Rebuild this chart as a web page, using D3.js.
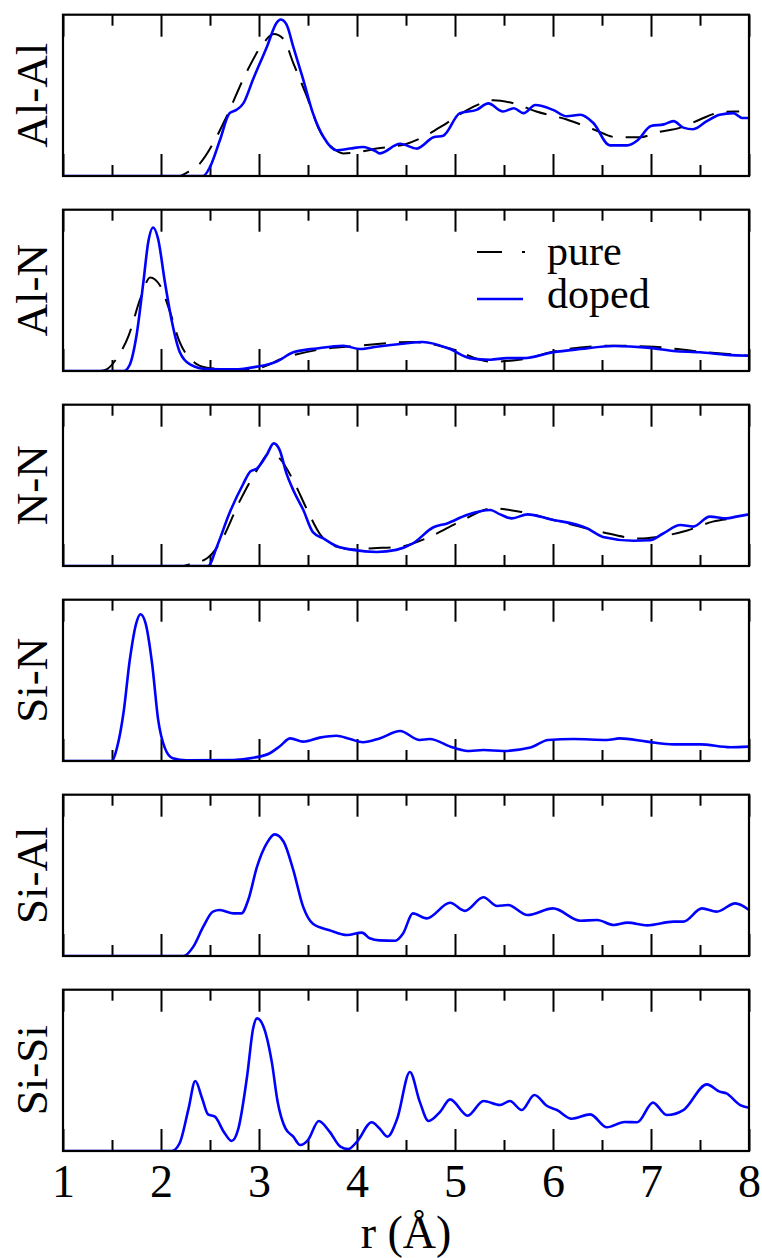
<!DOCTYPE html>
<html>
<head>
    <title>Pair distribution functions</title>
    <script src="https://d3js.org/d3.v7.min.js"></script>
    <style>
        body { margin: 0; background: #fff; }
        svg text { font-family: "Liberation Serif", "Times New Roman", Times, "DejaVu Serif", serif; fill: #000; }
        .frame { fill: none; stroke: #000; stroke-width: 2.2px; }
        .tick line { stroke: #000; stroke-width: 2px; }
        .pure { fill: none; stroke: #000; stroke-width: 2px; stroke-dasharray: 22,13; }
        .doped { fill: none; stroke: #0000ff; stroke-width: 2.6px; }
    </style>
</head>
<body>
    <svg width="762" height="1258"></svg>
    <script>
        // Panel labels, top to bottom
        var pairs = ["Al-Al", "Al-N", "N-N", "Si-N", "Si-Al", "Si-Si"];

        // x tick labels
        var xTicks = [1, 2, 3, 4, 5, 6, 7, 8];

        // Al-Al
        var alAlPureR = [1.0, 2.19, 2.26, 2.40, 2.53, 2.67, 2.87, 3.04, 3.15, 3.25, 3.35, 3.49, 3.62, 3.76, 3.86, 4.03, 4.2, 4.51, 4.67, 4.92, 5.19, 5.39, 5.60, 5.83, 6.14, 6.41, 6.65, 6.89, 7.06, 7.3, 7.5, 7.67, 7.84, 7.9];
        var alAlPure  = [0, 0, 0.02, 0.08, 0.20, 0.37, 0.64, 0.82, 0.88, 0.85, 0.70, 0.49, 0.28, 0.17, 0.14, 0.15, 0.17, 0.20, 0.24, 0.33, 0.43, 0.47, 0.45, 0.40, 0.35, 0.29, 0.24, 0.24, 0.27, 0.30, 0.35, 0.39, 0.40, 0.40];
        var alAlDopedR = [1.0, 2.43, 2.50, 2.60, 2.70, 2.77, 2.84, 2.94, 3.08, 3.18, 3.22, 3.28, 3.35, 3.45, 3.55, 3.66, 3.79, 3.93, 4.06, 4.2, 4.23, 4.44, 4.61, 4.78, 4.88, 5.05, 5.22, 5.34, 5.49, 5.60, 5.70, 5.82, 6.00, 6.14, 6.28, 6.41, 6.58, 6.76, 6.86, 7.00, 7.13, 7.23, 7.33, 7.43, 7.57, 7.70, 7.84, 7.93, 8.0];
        var alAlDoped  = [0, 0, 0.056, 0.22, 0.39, 0.41, 0.45, 0.60, 0.80, 0.95, 0.97, 0.94, 0.80, 0.60, 0.39, 0.24, 0.16, 0.17, 0.18, 0.15, 0.14, 0.20, 0.17, 0.24, 0.25, 0.39, 0.41, 0.45, 0.40, 0.42, 0.39, 0.44, 0.41, 0.37, 0.38, 0.33, 0.19, 0.19, 0.22, 0.31, 0.32, 0.34, 0.30, 0.29, 0.34, 0.38, 0.39, 0.36, 0.36];

        // Al-N
        var alNPureR = [1.0, 1.38, 1.45, 1.55, 1.67, 1.79, 1.89, 1.99, 2.09, 2.19, 2.33, 2.47, 2.74, 2.98, 3.25, 3.59, 4.03, 4.57, 4.95, 5.36, 5.7, 6.0, 6.62, 7.03, 7.5, 8.0];
        var alNPure  = [0, 0, 0.012, 0.08, 0.22, 0.45, 0.58, 0.53, 0.37, 0.18, 0.058, 0.02, 0.01, 0.017, 0.08, 0.13, 0.157, 0.18, 0.14, 0.058, 0.074, 0.12, 0.157, 0.15, 0.12, 0.095];
        var alNDopedR = [1.0, 1.62, 1.68, 1.75, 1.82, 1.87, 1.92, 1.97, 2.04, 2.11, 2.19, 2.30, 2.47, 2.74, 2.98, 3.18, 3.35, 3.59, 3.86, 4.03, 4.2, 4.44, 4.67, 4.95, 5.15, 5.36, 5.53, 5.70, 6.0, 6.28, 6.62, 6.96, 7.23, 7.5, 7.78, 8.0];
        var alNDoped  = [0, 0, 0.037, 0.22, 0.55, 0.80, 0.89, 0.82, 0.55, 0.31, 0.12, 0.04, 0.012, 0.01, 0.027, 0.058, 0.116, 0.14, 0.157, 0.136, 0.15, 0.167, 0.18, 0.136, 0.08, 0.07, 0.08, 0.08, 0.116, 0.136, 0.155, 0.145, 0.124, 0.116, 0.10, 0.095];

        // N-N
        var nNPureR = [1.0, 2.23, 2.30, 2.47, 2.60, 2.81, 2.98, 3.11, 3.21, 3.35, 3.49, 3.62, 3.79, 3.96, 4.17, 4.44, 4.74, 5.05, 5.39, 5.66, 6.07, 6.48, 6.89, 7.06, 7.37, 7.63, 7.84, 7.9];
        var nNPure  = [0, 0, 0.012, 0.048, 0.14, 0.41, 0.595, 0.70, 0.667, 0.53, 0.35, 0.20, 0.12, 0.103, 0.11, 0.12, 0.18, 0.275, 0.357, 0.337, 0.275, 0.213, 0.17, 0.18, 0.22, 0.275, 0.295, 0.30];
        var nNDopedR = [1.0, 2.48, 2.57, 2.70, 2.84, 2.91, 2.98, 3.08, 3.15, 3.21, 3.28, 3.35, 3.45, 3.55, 3.66, 3.79, 3.96, 4.2, 4.40, 4.57, 4.78, 4.92, 5.12, 5.36, 5.46, 5.58, 5.74, 5.97, 6.35, 6.51, 6.82, 6.99, 7.12, 7.30, 7.43, 7.60, 7.77, 7.87, 8.0];
        var nNDoped  = [0, 0, 0.12, 0.33, 0.51, 0.585, 0.605, 0.69, 0.76, 0.72, 0.574, 0.47, 0.35, 0.21, 0.17, 0.124, 0.10, 0.087, 0.10, 0.14, 0.24, 0.264, 0.316, 0.347, 0.32, 0.295, 0.32, 0.29, 0.233, 0.18, 0.157, 0.16, 0.20, 0.254, 0.244, 0.306, 0.295, 0.306, 0.32];

        // Si-N (doped only)
        var siNDopedR = [1.0, 1.50, 1.55, 1.62, 1.68, 1.75, 1.79, 1.84, 1.91, 1.97, 2.04, 2.12, 2.26, 2.74, 2.94, 3.11, 3.21, 3.32, 3.45, 3.62, 3.79, 3.93, 4.06, 4.23, 4.44, 4.64, 4.74, 4.98, 5.15, 5.29, 5.49, 5.77, 5.95, 6.21, 6.55, 6.68, 6.96, 7.23, 7.5, 7.81, 8.0];
        var siNDoped  = [0, 0, 0.08, 0.31, 0.62, 0.86, 0.91, 0.86, 0.60, 0.26, 0.08, 0.017, 0.004, 0.006, 0.02, 0.048, 0.09, 0.14, 0.12, 0.145, 0.157, 0.136, 0.116, 0.14, 0.186, 0.13, 0.136, 0.083, 0.062, 0.068, 0.062, 0.083, 0.13, 0.136, 0.13, 0.14, 0.12, 0.103, 0.103, 0.085, 0.089];

        // Si-Al (doped only)
        var siAlDopedR = [1.0, 2.23, 2.33, 2.43, 2.53, 2.60, 2.74, 2.82, 2.89, 2.98, 3.08, 3.16, 3.25, 3.35, 3.45, 3.55, 3.72, 3.90, 4.05, 4.13, 4.23, 4.39, 4.47, 4.57, 4.71, 4.95, 5.10, 5.29, 5.43, 5.54, 5.74, 6.0, 6.28, 6.45, 6.62, 6.76, 6.96, 7.23, 7.33, 7.52, 7.67, 7.86, 8.0];
        var siAlDoped  = [0, 0, 0.058, 0.18, 0.275, 0.285, 0.264, 0.264, 0.347, 0.554, 0.70, 0.754, 0.71, 0.533, 0.306, 0.20, 0.16, 0.13, 0.145, 0.11, 0.097, 0.095, 0.14, 0.264, 0.233, 0.33, 0.28, 0.364, 0.31, 0.316, 0.254, 0.295, 0.219, 0.223, 0.192, 0.207, 0.19, 0.213, 0.213, 0.295, 0.275, 0.326, 0.285];

        // Si-Si (doped only)
        var siSiDopedR = [1.0, 2.11, 2.19, 2.28, 2.35, 2.42, 2.48, 2.55, 2.64, 2.72, 2.79, 2.88, 2.94, 2.98, 3.04, 3.13, 3.19, 3.27, 3.35, 3.42, 3.50, 3.61, 3.72, 3.83, 3.91, 4.0, 4.15, 4.23, 4.31, 4.41, 4.54, 4.64, 4.73, 4.85, 4.95, 5.13, 5.29, 5.46, 5.56, 5.68, 5.81, 5.94, 6.04, 6.19, 6.38, 6.55, 6.73, 6.86, 7.02, 7.16, 7.33, 7.57, 7.70, 7.77, 7.91, 8.0];
        var siSiDoped  = [0, 0, 0.048, 0.26, 0.434, 0.326, 0.227, 0.213, 0.12, 0.062, 0.14, 0.47, 0.76, 0.822, 0.78, 0.554, 0.306, 0.14, 0.089, 0.037, 0.068, 0.186, 0.12, 0.027, 0.012, 0.058, 0.178, 0.14, 0.089, 0.20, 0.49, 0.306, 0.186, 0.244, 0.32, 0.219, 0.31, 0.285, 0.31, 0.254, 0.347, 0.279, 0.254, 0.20, 0.227, 0.147, 0.18, 0.178, 0.30, 0.223, 0.254, 0.413, 0.368, 0.357, 0.285, 0.268];

        var pureSets  = [[alAlPureR, alAlPure], [alNPureR, alNPure], [nNPureR, nNPure], null, null, null];
        var dopedSets = [[alAlDopedR, alAlDoped], [alNDopedR, alNDoped], [nNDopedR, nNDoped],
                         [siNDopedR, siNDoped], [siAlDopedR, siAlDoped], [siSiDopedR, siSiDoped]];

        // Layout
        var left = 63, right = 749, top0 = 14.7, step = 195, ph = 161.3;
        var width = right - left;
        var serif = '"Liberation Serif", "Times New Roman", Times, "DejaVu Serif", serif';

        var svg = d3.select("svg");

        var x = d3.scaleLinear().domain([1, 8]).range([0, width]);
        var y = d3.scaleLinear().domain([0, 1]).range([ph, 0]);

        var line = d3.line()
            .x(function(d) { return x(d[0]); })
            .y(function(d) { return y(d[1]); })
            .curve(d3.curveMonotoneX);

        function zip(s) {
            return s[0].map(function(r, i) { return [r, s[1][i]]; });
        }

        var majors = d3.range(1, 8.01, 1);
        var minors = d3.range(1.5, 8, 1);

        svg.append("defs").append("clipPath").attr("id", "clip")
            .append("rect").attr("width", width).attr("height", ph);

        pairs.forEach(function(name, i) {
            var g = svg.append("g")
                .attr("transform", "translate(" + left + "," + (top0 + step * i) + ")");

            // ticks, inside on top and bottom
            [[d3.axisTop, 0], [d3.axisBottom, ph]].forEach(function(a) {
                g.append("g").attr("transform", "translate(0," + a[1] + ")")
                    .call(a[0](x).tickValues(majors).tickSize(-22).tickFormat(""))
                    .call(function(s) { s.select(".domain").remove(); });
                g.append("g").attr("transform", "translate(0," + a[1] + ")")
                    .call(a[0](x).tickValues(minors).tickSize(-11).tickFormat(""))
                    .call(function(s) { s.select(".domain").remove(); });
            });

            var plot = g.append("g").attr("clip-path", "url(#clip)");
            if (pureSets[i]) {
                plot.append("path").datum(zip(pureSets[i])).attr("class", "pure").attr("d", line);
            }
            plot.append("path").datum(zip(dopedSets[i])).attr("class", "doped").attr("d", line);

            g.append("rect").attr("class", "frame").attr("width", width).attr("height", ph);

            // y label
            g.append("text")
                .attr("transform", "translate(" + (47 - left) + "," + (ph / 2) + ") rotate(-90)")
                .attr("text-anchor", "middle")
                .attr("font-family", serif)
                .style("font-size", "45px")
                .text(name);

            // legend in second panel
            if (i === 1) {
                var lg = g.append("g");
                lg.append("rect").attr("x", 462 - left).attr("y", 222 - top0 - step)
                    .attr("width", 206).attr("height", 110).attr("fill", "#fff");
                lg.append("line").attr("class", "pure")
                    .attr("x1", 477 - left).attr("x2", 525 - left)
                    .attr("y1", 252 - top0 - step).attr("y2", 252 - top0 - step)
                    .style("stroke-dasharray", "25,20");
                lg.append("line").attr("class", "doped")
                    .attr("x1", 477 - left).attr("x2", 523 - left)
                    .attr("y1", 299 - top0 - step).attr("y2", 299 - top0 - step);
                lg.append("text").attr("x", 547 - left).attr("y", 265 - top0 - step)
                    .attr("font-family", serif)
                    .style("font-size", "42px").text("pure");
                lg.append("text").attr("x", 547 - left).attr("y", 308 - top0 - step)
                    .attr("font-family", serif)
                    .style("font-size", "42px").text("doped");
            }
        });

        // x axis labels under the last panel
        var bottom = top0 + step * 5 + ph;
        svg.append("g")
            .attr("transform", "translate(" + left + "," + bottom + ")")
            .call(d3.axisBottom(x).tickValues(xTicks).tickSize(0).tickPadding(0).tickFormat(d3.format("d")))
            .attr("font-family", serif)
            .attr("font-size", 46)
            .call(function(s) {
                s.select(".domain").remove();
                s.selectAll("text").attr("dy", null).attr("y", 46);
            });

        svg.append("text")
            .attr("x", left + width / 2).attr("y", 1248)
            .attr("text-anchor", "middle")
            .attr("font-family", serif)
            .style("font-size", "46px")
            .text("r (Å)");
    </script>
</body>
</html>
